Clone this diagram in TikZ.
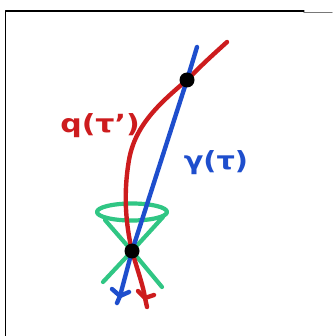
\documentclass[tikz,border=0pt]{standalone}
\usepackage{fontspec}
\setmainfont{DejaVu Sans}
\begin{document}
\begin{tikzpicture}[x=1pt,y=-1pt,line cap=round,line join=round,
  worldline/.style={line width=4.4pt},
  conestroke/.style={draw=conegreen,line width=4.2pt},
  event/.style={circle,fill=black,inner sep=0pt,minimum size=15pt},
  hand/.style={font=\fontsize{25}{28}\selectfont\bfseries,inner sep=0pt}]
\definecolor{pathred}{RGB}{205,28,30}
\definecolor{pathblue}{RGB}{30,78,205}
\definecolor{conegreen}{RGB}{48,198,132}
\definecolor{framegray}{RGB}{120,120,120}
\useasboundingbox (0,0) rectangle (332,336);
\fill[white] (0,0) rectangle (332,336);
% frame edges
\draw[line width=1.3pt] (5.5,336) -- (5.5,11) -- (304,11);
\draw[framegray,line width=1.4pt] (304,12.3) -- (332,12.3);
% events
\coordinate (top) at (187,80);
\coordinate (bot) at (132,251);
% light cone
\draw[conestroke] (132,212) ellipse [x radius=35,y radius=8.5];
\draw[conestroke] (105,220) -- (bot) -- (162,287);
\draw[conestroke] (163,217) -- (bot) -- (103,282);
% red curve q(tau')
\draw[pathred,worldline] (227,42) .. controls (205,62) .. (top)
  .. controls (160,103) and (135,125) .. (129,160)
  .. controls (123,195) and (126,225) .. (bot)
  .. controls (138,272) and (143,285) .. (145,298) -- (147,307);
\draw[pathred,worldline] (138,291) -- (145,298) -- (154,295);
% blue line gamma(tau)
\draw[pathblue,worldline] (197,47) -- (top) -- (bot) -- (120,296) -- (117,303);
\draw[pathblue,worldline] (112,289) -- (120,296) -- (129,292);
% event dots
\node[event] (e1) at (top) {};
\node[event] (e2) at (bot) {};
% labels
\node[hand,text=pathred,xscale=1.2] (lq) at (100,126) {q(τ')};
\node[hand,text=pathblue,xscale=1.15] (lg) at (216,163) {γ(τ)};
\end{tikzpicture}
\end{document}
